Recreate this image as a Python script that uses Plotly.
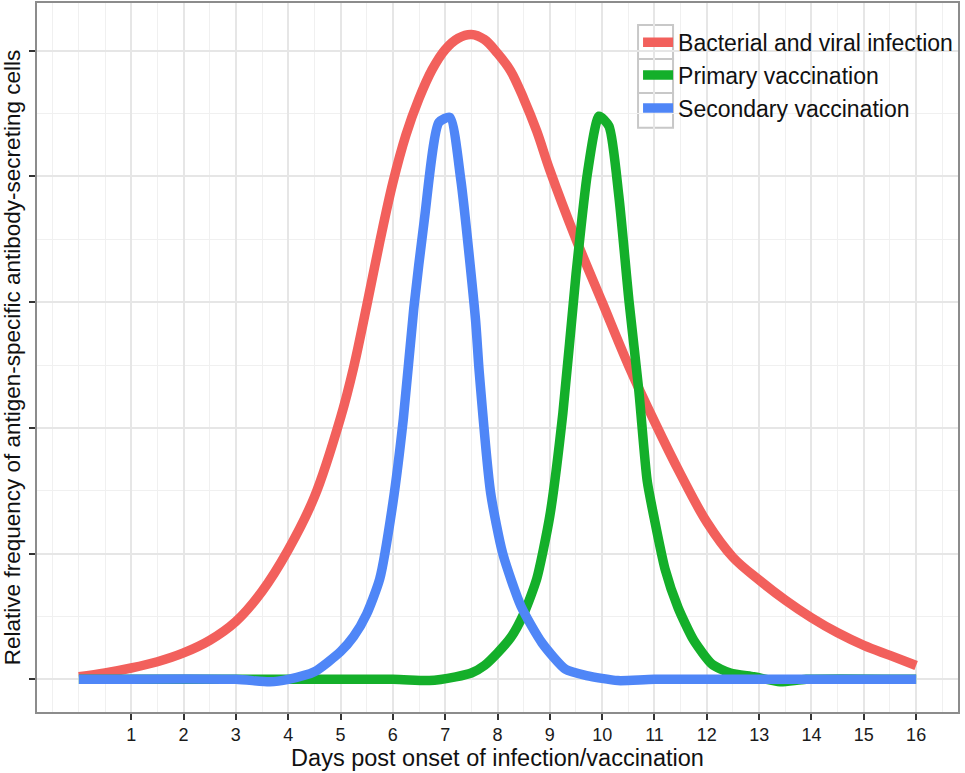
import plotly.graph_objects as go

# ---- data ----
series_names = ["Bacterial and viral infection", "Primary vaccination", "Secondary vaccination"]
series_colors = ["#F2605C", "#14AF2A", "#4F86F7"]

infection_x = [0, 0.5, 1, 1.5, 2, 2.5, 3, 3.5, 4, 4.5, 5, 5.25, 5.5, 5.75, 6, 6.25, 6.5, 6.75,
               7, 7.25, 7.5, 7.75, 8, 8.25, 8.5, 8.75, 9, 9.5, 10, 10.5, 11, 11.5, 12, 12.5,
               13, 13.5, 14, 14.5, 15, 15.5, 16]
infection_y = [0.02, 0.05, 0.09, 0.14, 0.21, 0.31, 0.46, 0.70, 1.03, 1.45, 2.08, 2.48, 2.97, 3.48,
               3.95, 4.33, 4.62, 4.85, 5.01, 5.10, 5.13, 5.09, 4.98, 4.84, 4.62, 4.36, 4.05, 3.50,
               3.00, 2.50, 2.05, 1.63, 1.25, 0.97, 0.79, 0.63, 0.49, 0.37, 0.27, 0.19, 0.11]

primary_x = [0, 6, 6.7, 7.2, 7.5, 7.75, 8, 8.25, 8.5, 8.75, 9, 9.25, 9.5, 9.72, 9.94, 10.13,
             10.32, 10.51, 10.7, 10.86, 11, 11.2, 11.45, 11.75, 12.1, 12.45, 12.9, 13.4, 13.9, 16]
primary_y = [0, 0, -0.01, 0.02, 0.05, 0.11, 0.21, 0.33, 0.52, 0.80, 1.30, 2.12, 3.22, 4.03, 4.48, 4.40,
             3.84, 3.02, 2.30, 1.58, 1.27, 0.88, 0.57, 0.31, 0.12, 0.05, 0.02, -0.02, 0.0, 0.0]

secondary_x = [0, 3, 3.65, 4, 4.5, 5, 5.25, 5.5, 5.75, 6, 6.2, 6.4, 6.6, 6.88, 7.09, 7.3, 7.58,
               7.65, 7.87, 8.1, 8.45, 8.85, 9.3, 9.7, 10.3, 11, 16]
secondary_y = [0, 0, -0.02, 0.0, 0.06, 0.22, 0.34, 0.52, 0.80, 1.40, 2.07, 2.95, 3.65, 4.43, 4.47,
               3.97, 2.86, 2.45, 1.48, 1.00, 0.58, 0.29, 0.08, 0.03, -0.01, 0, 0]

x_ticks = list(range(1, 17))
y_ticks = [0, 1, 2, 3, 4, 5]

x_title = "Days post onset of infection/vaccination"
y_title = "Relative frequency of antigen-specific antibody-secreting cells"

FONT = "Liberation Sans, Arial, Helvetica, sans-serif"

smoothing = [1.0, 0.6, 0.6]

fig = go.Figure()
for name, color, xs, ys, sm in zip(series_names, series_colors,
                                   [infection_x, primary_x, secondary_x],
                                   [infection_y, primary_y, secondary_y], smoothing):
    fig.add_trace(go.Scatter(x=xs, y=ys, mode="lines", name=name, legendgroup=name,
                             line=dict(color=color, width=9.5, shape="spline", smoothing=sm)))

# legend key boxes (ggplot style)
key_x0, key_x1 = 0.6526, 0.6906
key_edges = [0.969, 0.921, 0.873, 0.824]
for i in range(3):
    fig.add_shape(type="rect", xref="paper", yref="paper",
                  x0=key_x0, x1=key_x1, y0=key_edges[i + 1], y1=key_edges[i],
                  line=dict(color="#C8C8C8", width=2), fillcolor="rgba(0,0,0,0)", layer="below")

grid_major = "#E6E6E6"
grid_minor = "#F0F0F0"

fig.update_layout(
    width=965, height=773,
    margin=dict(l=37, r=7, t=3, b=61),
    paper_bgcolor="white", plot_bgcolor="white",
    font=dict(family=FONT, color="#111111"),
    showlegend=True,
    legend=dict(x=0.6526, y=0.975, xanchor="left", yanchor="top",
                bgcolor="rgba(0,0,0,0)", font=dict(size=23, family=FONT, color="#111111"),
                itemwidth=30, tracegroupgap=1, traceorder="normal"),
    xaxis=dict(range=[-0.8, 16.8], tickmode="array", tickvals=x_ticks,
               ticktext=[str(v) for v in x_ticks], automargin=False,
               ticks="outside", ticklen=6, tickwidth=2, tickcolor="#333333",
               tickfont=dict(size=18, family=FONT, color="#1a1a1a"),
               showgrid=True, gridcolor=grid_major, gridwidth=1.5,
               minor=dict(tickmode="linear", tick0=0, dtick=0.5, showgrid=True,
                          gridcolor=grid_minor, gridwidth=1, ticklen=0),
               showline=True, linecolor="#8C8C8C", linewidth=1.5, mirror=True,
               zeroline=False,
               title=dict(text=x_title, font=dict(size=23.5, family=FONT, color="#111111"),
                          standoff=4)),
    yaxis=dict(range=[-0.26, 5.38], tickmode="array", tickvals=y_ticks,
               showticklabels=False, automargin=False,
               ticks="outside", ticklen=6, tickwidth=2, tickcolor="#333333",
               showgrid=True, gridcolor=grid_major, gridwidth=1.5,
               minor=dict(tickmode="linear", tick0=0, dtick=0.5, showgrid=True,
                          gridcolor=grid_minor, gridwidth=1, ticklen=0),
               showline=True, linecolor="#8C8C8C", linewidth=1.5, mirror=True,
               zeroline=False,
               title=dict(text=y_title, font=dict(size=22.5, family=FONT, color="#111111"),
                          standoff=6)),
)

fig.write_html("out.html", config={"displayModeBar": False},
               post_script="document.body.style.margin='0';document.body.style.overflow='hidden';")
